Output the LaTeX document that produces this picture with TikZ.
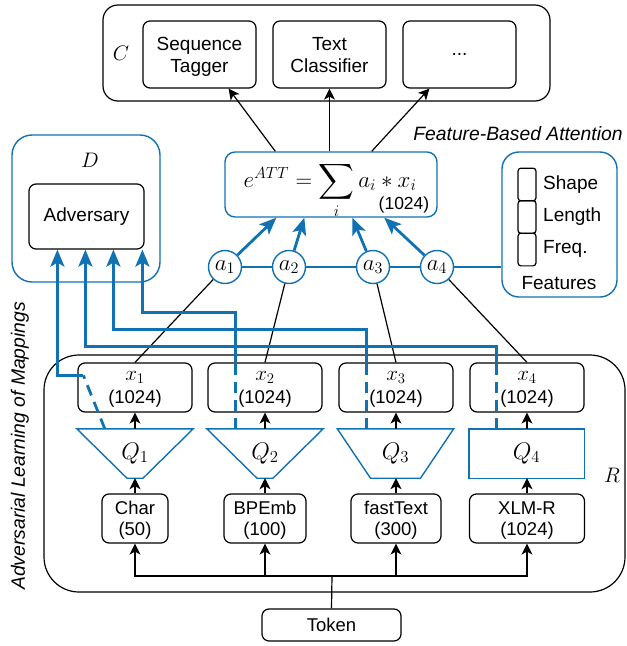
\RequirePackage{fix-cm}
\documentclass[tikz,border=0pt]{standalone}
\usepackage{exscale}
\usepackage{fontspec}
\setmainfont{Liberation Sans}
\usetikzlibrary{arrows.meta,calc}
\definecolor{bl}{RGB}{16,114,178}

\begin{document}
\begin{tikzpicture}[x=1pt,y=-1pt,
  lw/.style={line width=1.2pt},
  box/.style={draw,lw,rounded corners=7pt,fill=white,align=center,inner sep=0pt,
    font=\fontsize{19}{22}\selectfont},
  two/.style={text depth=0pt},
  bbox/.style={draw=bl,line width=1.4pt,fill=white,inner sep=0pt},
  mlbl/.style={inner sep=0pt,font=\fontsize{21}{21}\selectfont},
  xbox/.style={box,two,minimum width=114pt,minimum height=49pt,
    font=\fontsize{18.5}{23}\selectfont},
  ebox/.style={box,two,minimum height=49pt,font=\fontsize{18.5}{21.5}\selectfont},
  qnode/.style={minimum width=116pt,minimum height=49pt,inner sep=0pt,
    font=\fontsize{24}{24}\selectfont},
  anode/.style={circle,draw=bl,line width=1.4pt,fill=white,minimum size=33pt,
    inner sep=0pt,font=\fontsize{23}{23}\selectfont},
  cell/.style={draw,lw,rounded corners=3pt,minimum width=18pt,minimum height=32.7pt,inner sep=0pt},
  flbl/.style={anchor=west,inner sep=0pt,font=\fontsize{19}{20}\selectfont},
  arr/.style={lw,-{Stealth[length=11pt,width=11pt,inset=3pt]}},
  bline/.style={draw=bl,line width=2.8pt},
  barr/.style={bline,-{Stealth[length=17pt,width=14pt,inset=4pt]}},
  bdash/.style={bline,dash pattern=on 11pt off 7pt},
  qshape/.style={draw=bl,line width=1.4pt},
  ital/.style={font=\fontsize{19.3}{20}\selectfont\itshape,inner sep=0pt}
]
\useasboundingbox (0,0) rectangle (627,646);

% containers
\node[draw,lw,rounded corners=35pt,minimum width=581pt,minimum height=237pt] (R) at (334.5,473.5) {};
\node[mlbl] at (612,475) {$R$};
\node[bbox,rounded corners=20pt,minimum width=148pt,minimum height=147pt] (D) at (86,208.5) {};
\node[mlbl] at (90,160) {$D$};
\node[draw,lw,rounded corners=15pt,minimum width=447pt,minimum height=96pt] (C) at (326.5,53) {};
\node[mlbl] at (121,53) {$C$};

% task heads
\node[box,two,minimum width=113pt,minimum height=67pt] (seq) at (199.5,54.5) {Sequence\\Tagger};
\node[box,two,minimum width=113pt,minimum height=67pt] (txt) at (329.5,54.5) {Text\\Classifier};
\node[box,minimum width=113pt,minimum height=67pt] (dots) at (459.5,54.5) {...};

% discriminator
\node[box,minimum width=115pt,minimum height=65pt] (adv) at (86.5,216.5) {Adversary};

% attention
\node[bbox,rounded corners=10pt,minimum width=212pt,minimum height=65pt] (att) at (331,184.5) {};
\node[inner sep=0pt,anchor=base,font=\fontsize{23}{24}\selectfont] (form) at (330,187.5) {$\displaystyle e^{ATT}=\sum_i a_i * x_i$};
\node[inner sep=0pt,font=\fontsize{17.5}{17}\selectfont] (dim) at (404,205) {(1024)};
\node[ital] (fba) at (518,134) {Feature-Based Attention};

% features
\node[bbox,rounded corners=17pt,minimum width=115pt,minimum height=145pt] (feat) at (559.5,224.5) {};
\node[cell] (f1) at (527,184.5) {};
\node[cell] (f2) at (527,217) {};
\node[cell] (f3) at (527,249.5) {};
\node[flbl] at (543,185) {Shape};
\node[flbl] at (543,217) {Length};
\node[flbl] at (543,249) {Freq.};
\node[inner sep=0pt,font=\fontsize{19}{20}\selectfont] at (559,283) {Features};

% attention weights
\node[anode] (a1) at (225,267) {$a_1$};
\node[anode] (a2) at (289,267) {$a_2$};
\node[anode] (a3) at (373,267) {$a_3$};
\node[anode] (a4) at (437,267) {$a_4$};

% mapped embeddings
\node[xbox] (x1) at (135,387.5) {{\fontsize{21}{21}\selectfont$x_1$}\\(1024)};
\node[xbox] (x2) at (265,387.5) {{\fontsize{21}{21}\selectfont$x_2$}\\(1024)};
\node[xbox] (x3) at (396,387.5) {{\fontsize{21}{21}\selectfont$x_3$}\\(1024)};
\node[xbox] (x4) at (527,387.5) {{\fontsize{21}{21}\selectfont$x_4$}\\(1024)};

% mappings
\node[qnode] (Q1) at (135,453.5) {$Q_1$};
\node[qnode] (Q2) at (265,453.5) {$Q_2$};
\node[qnode] (Q3) at (395.5,453.5) {$Q_3$};
\node[qnode,minimum width=115pt] (Q4) at (526.5,453.5) {$Q_4$};
\draw[qshape] (Q1.north west) -- (Q1.north east) -- ($(Q1.south)+(8,0)$) -- ($(Q1.south)+(-8,0)$) -- cycle;
\draw[qshape] (Q2.north west) -- (Q2.north east) -- ($(Q2.south)+(8,0)$) -- ($(Q2.south)+(-8,0)$) -- cycle;
\draw[qshape] (Q3.north west) -- (Q3.north east) -- ($(Q3.south)+(25,0)$) -- ($(Q3.south)+(-25,0)$) -- cycle;
\draw[qshape] (Q4.north west) rectangle (Q4.south east);

% input embeddings
\node[ebox,minimum width=66pt] (char) at (135,518.5) {Char\\(50)};
\node[ebox,minimum width=82pt] (bpe) at (265,518.5) {BPEmb\\(100)};
\node[ebox,minimum width=90pt] (ft) at (396,518.5) {fastText\\(300)};
\node[ebox,minimum width=115pt] (xlm) at (527,518.5) {XLM-R\\(1024)};

\node[box,minimum width=139pt,minimum height=32pt,font=\fontsize{18.5}{22}\selectfont] (tok) at (331.5,625) {Token};

% token fan-out
\coordinate (bus) at (332,576);
\draw[lw] (tok.north) -- (bus);
\draw[arr] (bus) -| (char.south);
\draw[arr] (bus) -| (bpe.south);
\draw[arr] (bus) -| (ft.south);
\draw[arr] (bus) -| (xlm.south);

% embeddings -> mappings -> mapped vectors
\foreach \e/\q/\x in {char/Q1/x1,bpe/Q2/x2,ft/Q3/x3,xlm/Q4/x4}{
  \draw[arr] (\e.north) -- (\e.north |- \q.south);
  \draw[arr] (\x.south |- \q.north) -- (\x.south);
}

% mapped vectors -> attention weights
\draw[lw] (x1.north) -- (a1);
\draw[lw] (x2.north) -- (a2);
\draw[lw] (x3.north) -- (a3);
\draw[lw] (x4.north) -- (a4);

% features feed the weights
\draw[bline] (a1) -- (a2);
\draw[bline] (a2) -- (a3);
\draw[bline] (a3) -- (a4);
\draw[bline] (a4) -- (a4 -| feat.west);

% weights -> attention
\draw[barr] (a1) -- ($(att.south west)+(52,0)$);
\draw[barr] (a2) -- ($(att.south west)+(80,0)$);
\draw[barr] (a3) -- ($(att.south west)+(128,0)$);
\draw[barr] (a4) -- ($(att.south west)+(160,0)$);

% attention -> task heads
\draw[arr] ($(att.north west)+(51,0)$) -- ($(seq.south east)+(-28,0)$);
\draw[arr] (txt.south |- att.north) -- (txt.south);
\draw[arr] ($(att.north east)+(-66,0)$) -- ($(dots.south west)+(27,0)$);

% mapped spaces -> adversary
\coordinate (d1) at ($(adv.south west)+(29,0)$);
\coordinate (d2) at ($(adv.south west)+(57,0)$);
\coordinate (d3) at ($(adv.south west)+(85,0)$);
\coordinate (d4) at ($(adv.south west)+(114,0)$);
\coordinate (q1) at ($(Q1.north west)+(28,0)$);
\coordinate (q2) at ($(Q2.north west)+(29,0)$);
\coordinate (q3) at ($(Q3.north west)+(29,0)$);
\coordinate (q4) at ($(Q4.north west)+(28,0)$);
\coordinate (k1) at ($(x1.north west)+(6,13)$);
\draw[bdash] (q1) -- (k1);
\draw[barr] (k1) -| (d1);
\draw[bdash] (q2) -- (q2 |- x2.north);
\draw[barr] (q2 |- x2.north) -- ($(q2 |- x2.north)+(0,-50)$) -| (d4);
\draw[bdash] (q3) -- (q3 |- x3.north);
\draw[barr] (q3 |- x3.north) -- ($(q3 |- x3.north)+(0,-33)$) -| (d3);
\draw[bdash] (q4) -- (q4 |- x4.north);
\draw[barr] (q4 |- x4.north) -- ($(q4 |- x4.north)+(0,-16)$) -| (d2);

\node[ital,rotate=90] at (20,446) {Adversarial Learning of Mappings};
\end{tikzpicture}
\end{document}
